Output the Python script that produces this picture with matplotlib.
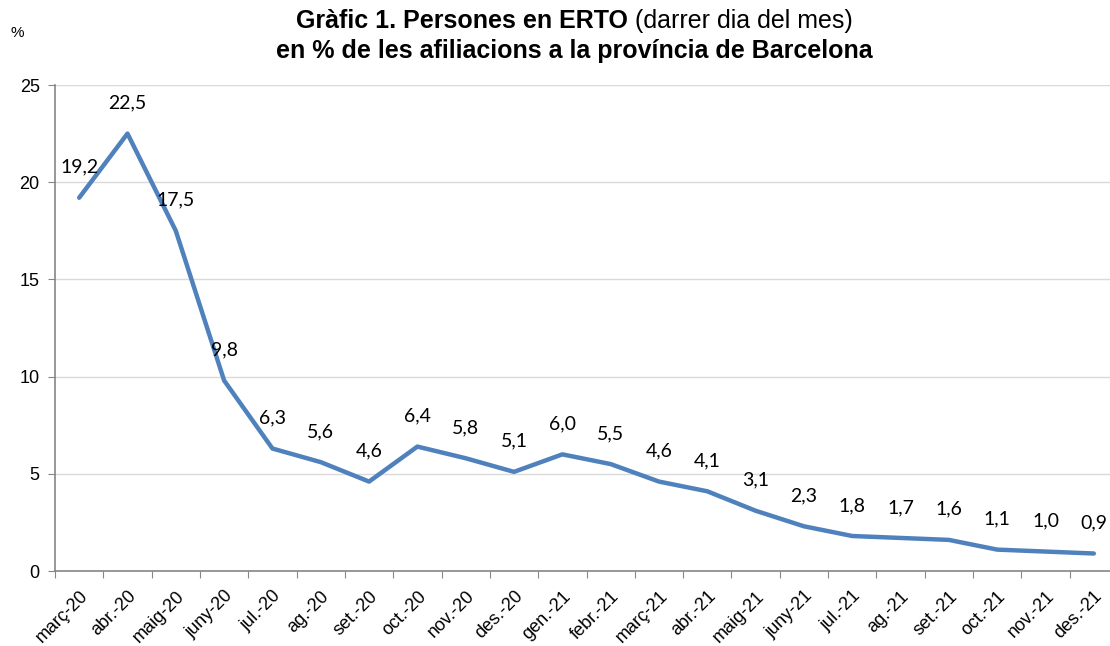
import matplotlib
matplotlib.use("Agg")
import matplotlib.pyplot as plt
from matplotlib.transforms import ScaledTranslation

categories = ["març-20", "abr.-20", "maig-20", "juny-20", "jul.-20", "ag.-20", "set.-20",
              "oct.-20", "nov.-20", "des.-20", "gen.-21", "febr.-21", "març-21", "abr.-21",
              "maig-21", "juny-21", "jul.-21", "ag.-21", "set.-21", "oct.-21", "nov.-21", "des.-21"]
values = [19.2, 22.5, 17.5, 9.8, 6.3, 5.6, 4.6, 6.4, 5.8, 5.1, 6.0, 5.5, 4.6, 4.1,
          3.1, 2.3, 1.8, 1.7, 1.6, 1.1, 1.0, 0.9]
yticks = [0, 5, 10, 15, 20, 25]

W, H = 1110, 646
fig = plt.figure(figsize=(W / 100, H / 100), dpi=100)
left, right, top, bottom = 55, 1118, 85, 571
ax = fig.add_axes([left / W, 1 - bottom / H, (right - left) / W, (bottom - top) / H])

x = list(range(len(categories)))
ax.plot(x, values, color="#4F81BD", lw=3.2, solid_joinstyle="round", solid_capstyle="round", zorder=3)
for xi, v in zip(x, values):
    ax.annotate(f"{v:.1f}".replace(".", ","), (xi, v), xytext=(0, 22), textcoords="offset points",
                ha="center", va="center", fontsize=14, family="Lato", color="black", zorder=4)

ax.set_xlim(-0.5, len(categories) - 0.5)
ax.set_ylim(0, 25)
ax.set_yticks(yticks)
ax.set_yticklabels([str(t) for t in yticks], family="Liberation Sans", fontsize=13)
ax.yaxis.grid(True, color="#D9D9D9", lw=1)
ax.set_axisbelow(True)

ax.set_xticks([i - 0.5 for i in range(len(categories) + 1)], minor=False)
ax.set_xticklabels([""] * (len(categories) + 1))
ax.set_xticks(x, minor=True)
ax.set_xticklabels(categories, minor=True, rotation=45, ha="right", rotation_mode="anchor",
                   family="Liberation Sans", fontsize=13)
offset = ScaledTranslation(8 / 100, 0, fig.dpi_scale_trans)
for lab in ax.xaxis.get_minorticklabels():
    lab.set_transform(lab.get_transform() + offset)
ax.tick_params(axis="x", which="minor", length=0, pad=12)
ax.tick_params(axis="x", which="major", length=5, color="#868686", direction="out")
ax.tick_params(axis="y", length=5, color="#868686", direction="out", pad=6)

for s in ["top", "right"]:
    ax.spines[s].set_visible(False)
for s in ["left", "bottom"]:
    ax.spines[s].set_color("#868686")
    ax.spines[s].set_linewidth(1.2)

fig.text(17 / W, 1 - 33 / H, "%", family="Liberation Sans", fontsize=11, ha="center", va="center")

# Title line 1: bold + normal
fig.canvas.draw()
r = fig.canvas.get_renderer()
t1 = fig.text(0, 1 - 21 / H, "Gràfic 1. Persones en ERTO", family="Liberation Sans",
              fontweight="bold", fontsize=18, va="center", ha="left")
t2 = fig.text(0, 1 - 21 / H, " (darrer dia del mes)", family="Liberation Sans",
              fontsize=18, va="center", ha="left")
w1 = t1.get_window_extent(r).width
w2 = t2.get_window_extent(r).width
cx = 574
x0 = cx - (w1 + w2) / 2
t1.set_x(x0 / W)
t2.set_x((x0 + w1) / W)
fig.text(cx / W, 1 - 51 / H, "en % de les afiliacions a la província de Barcelona",
         family="Liberation Sans", fontweight="bold", fontsize=18, va="center", ha="center")

fig.savefig("out.png", dpi=100)
